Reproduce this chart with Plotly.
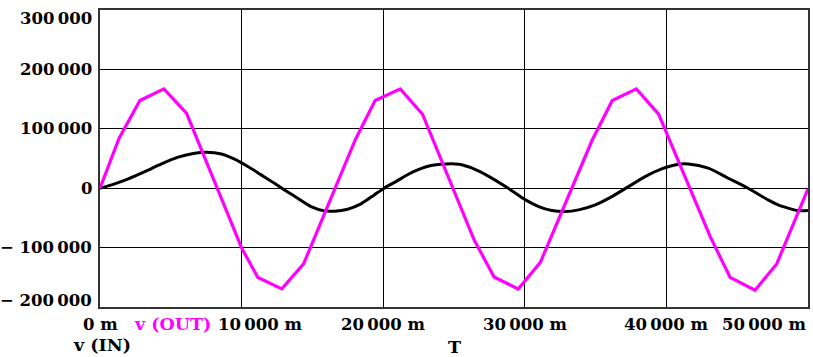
import plotly.graph_objects as go

# ---- data ----
t_in = [0, 824, 1993, 3169, 4345, 5514, 6690, 7514, 8570, 9507, 10443, 11387,
        12323, 13028, 13964, 14908, 15845, 16549, 17486, 18429, 19366, 20070,
        20894, 22063, 23239, 24415, 25351, 26288, 27485, 28640, 29344, 30048,
        30985, 31921, 32865, 33802, 34978, 36147, 37323, 38499, 39668, 40866,
        41550, 42960, 44366, 45770, 47180, 47890, 49300, 50000]
v_in = [0, 5600, 15700, 27900, 40900, 52200, 58900, 60600, 57700, 48800, 36400, 22400,
        8400, -2900, -16800, -31000, -38200, -38700, -35400, -26400, -11300, 0,
        11100, 26900, 37500, 40900, 40400, 33700, 19500, 2700, -8400, -19700,
        -31000, -37700, -39400, -36500, -28100, -14100, 2700, 19500, 32500, 40400,
        40900, 33700, 16800, 0, -19700, -28100, -37700, -37700]

t_out = [0, 1350, 2818, 4509, 6108, 10000, 11150, 12840, 14370,
         18040, 19430, 21205, 22776, 26420, 27830, 29540, 31100,
         34770, 36180, 37880, 39450, 43095, 44500, 46260, 47780, 50000]
v_out = [0, 84000, 147500, 167200, 126300, -100500, -150200, -169500, -127900,
         82000, 147500, 167200, 124500, -87000, -149400, -169800, -124800,
         81500, 147700, 167200, 124600, -81500, -150200, -171700, -128000, -1200]

x_tick_vals = [0, 10000, 20000, 30000, 40000, 50000]
x_tick_text = ["0 m", "10\u2009000 m", "20\u2009000 m", "30\u2009000 m", "40\u2009000 m", "50\u2009000 m"]
y_tick_vals = [300000, 200000, 100000, 0, -100000, -200000]
y_tick_text = ["300\u2009000", "200\u2009000", "100\u2009000", "0", "\u2212 100\u2009000", "\u2212 200\u2009000"]

series_names = ["v (IN)", "v (OUT)"]
axis_title = "T"

FONT = dict(family="DejaVu Serif", size=16.5, color="black", weight="bold")
LFONT = dict(family="DejaVu Serif", size=17.5, color="black", weight="bold")

fig = go.Figure()
fig.add_trace(go.Scatter(x=t_in, y=v_in, mode="lines", name=series_names[0],
                         line=dict(color="black", width=3, shape="spline", smoothing=0.7)))
fig.add_trace(go.Scatter(x=t_out, y=v_out, mode="lines", name=series_names[1],
                         line=dict(color="#FF00FF", width=3.2)))

annotations = []
# y tick labels
for v, txt in zip(y_tick_vals, y_tick_text):
    ys = 0
    if v == y_tick_vals[0]:
        ys = -8
    elif v == y_tick_vals[-1]:
        ys = 7
    annotations.append(dict(x=0, xref="paper", y=v, yref="y", text=txt, showarrow=False,
                            xanchor="right", yanchor="middle", xshift=-6, yshift=ys, font=FONT))
# x tick labels
for v, txt in zip(x_tick_vals, x_tick_text):
    xa, xs = "center", 0
    if v == x_tick_vals[-1]:
        xa = "right"
    elif v == 10000:
        xs = 18
    annotations.append(dict(x=v, xref="x", y=0, yref="paper", text=txt, showarrow=False,
                            xanchor=xa, yanchor="middle", xshift=xs, yshift=-17, font=FONT))
# legend-like labels
annotations.append(dict(x=(132 - 100) / 710, xref="paper", y=0, yref="paper", text=series_names[1],
                        showarrow=False, xanchor="left", yanchor="middle", yshift=-17,
                        font=dict(LFONT, color="#FF00FF")))
annotations.append(dict(x=(71 - 100) / 710, xref="paper", y=0, yref="paper", text=series_names[0],
                        showarrow=False, xanchor="left", yanchor="middle", yshift=-38,
                        font=LFONT))
annotations.append(dict(x=0.5, xref="paper", y=0, yref="paper", text=axis_title,
                        showarrow=False, xanchor="center", yanchor="middle", yshift=-40,
                        font=LFONT))

fig.update_layout(
    width=813, height=357,
    margin=dict(l=100, r=3, t=10, b=50),
    paper_bgcolor="white", plot_bgcolor="white",
    showlegend=False,
    annotations=annotations,
    xaxis=dict(range=[0, 50000], tickvals=x_tick_vals, showticklabels=False, ticks="",
               showgrid=True, gridcolor="black", gridwidth=1, zeroline=False,
               showline=True, linecolor="#333", linewidth=1.5, mirror=True),
    yaxis=dict(range=[-200000, 300000], tickvals=y_tick_vals, showticklabels=False, ticks="",
               showgrid=True, gridcolor="black", gridwidth=1,
               zeroline=True, zerolinecolor="black", zerolinewidth=1,
               showline=True, linecolor="#333", linewidth=1.5, mirror=True),
)

fig.write_html("out.html", config={"displayModeBar": False},
               post_script="document.body.style.margin='0';document.body.style.overflow='hidden';")
